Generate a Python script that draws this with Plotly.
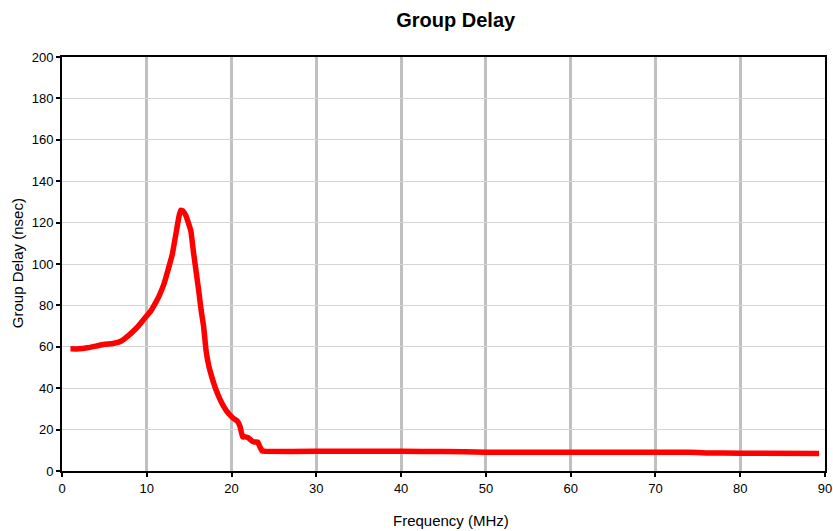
import plotly.graph_objects as go

freq_mhz = [1, 2, 3, 4, 5, 6, 7, 8, 9, 10, 10.5, 11, 11.5, 12, 12.5, 13, 13.5, 13.8,
            14.0, 14.3, 14.6, 14.9, 15.2, 15.5, 15.8, 16.1, 16.4, 16.7, 17.0, 17.3,
            17.7, 18.1, 18.6, 19.1, 19.6, 20.2, 20.7, 21.0, 21.3, 21.6, 22.0, 22.4,
            22.7, 23.1, 23.3, 23.6, 24, 30, 40, 45, 50, 60, 70, 74, 76, 80, 89.3]
delay_ns = [59, 59, 59.5, 60.3, 61.2, 61.6, 62.8, 66, 70, 75, 77.5, 81, 85, 90, 97,
            104.5, 116, 123, 126, 125.5, 123.5, 120, 116, 106, 97, 88, 78, 70, 58, 51,
            45, 40, 35, 31, 28, 25.5, 24, 21.5, 16.5, 16.5, 16, 14.5, 14, 14, 12, 9.7,
            9.5, 9.5, 9.5, 9.4, 9.1, 9.1, 9.1, 9.1, 8.7, 8.6, 8.5]

x_ticks = [0, 10, 20, 30, 40, 50, 60, 70, 80, 90]
y_ticks = [0, 20, 40, 60, 80, 100, 120, 140, 160, 180, 200]

font = "Liberation Sans, Arial, sans-serif"

fig = go.Figure()
fig.add_trace(go.Scatter(x=freq_mhz, y=delay_ns, mode="lines",
                         line=dict(color="#ff0000", width=5.5, shape="spline", smoothing=0.3),
                         showlegend=False, hoverinfo="skip"))

fig.update_layout(
    width=833, height=531,
    margin=dict(l=62, r=8, t=57, b=60),
    paper_bgcolor="white", plot_bgcolor="white",
    font=dict(family=font, color="black", size=13),
    title=dict(text="<b>Group Delay</b>", font=dict(size=20, family=font, color="black"),
               x=0.516, xref="paper", xanchor="center",
               y=1 - 20 / 531, yref="container", yanchor="middle"),
    xaxis=dict(range=[0, 90], tickvals=x_ticks, ticktext=[str(v) for v in x_ticks],
               showgrid=True, gridcolor="#c0c0c0", gridwidth=2.5,
               showline=True, linecolor="black", linewidth=2, mirror=True,
               ticks="outside", ticklen=4, tickwidth=2, tickcolor="black",
               tickfont=dict(size=13), zeroline=False, automargin=False),
    yaxis=dict(range=[0, 200], tickvals=y_ticks, ticktext=[str(v) for v in y_ticks],
               showgrid=True, gridcolor="#d4d4d4", gridwidth=1,
               showline=True, linecolor="black", linewidth=2, mirror=True,
               ticks="outside", ticklen=4, tickwidth=2, tickcolor="black",
               tickfont=dict(size=13), zeroline=False, automargin=False),
    annotations=[
        dict(text="Frequency (MHz)", xref="paper", yref="paper",
             x=(451 - 62) / 763, y=-(520 - 471) / 414, xanchor="center", yanchor="middle",
             showarrow=False, font=dict(size=15, family=font)),
        dict(text="Group Delay (nsec)", xref="paper", yref="paper",
             x=-(62 - 17) / 763, y=0.502, xanchor="center", yanchor="middle",
             textangle=-90, showarrow=False, font=dict(size=15, family=font)),
    ],
)

fig.write_html("out.html", config={"displayModeBar": False},
               post_script="document.body.style.margin='0';")
